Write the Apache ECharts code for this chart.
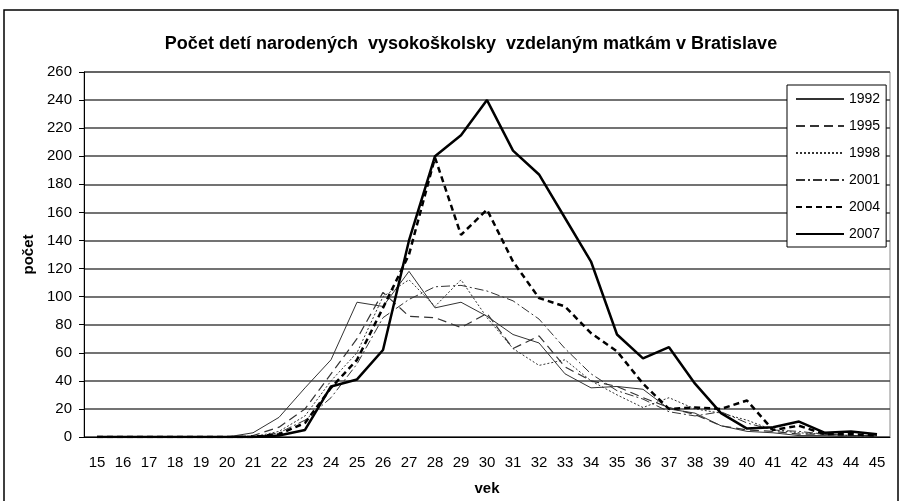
<!DOCTYPE html>
<html>
<head>
<meta charset="utf-8">
<script src="https://cdn.jsdelivr.net/npm/echarts@6/dist/echarts.min.js"></script>
<style>
  html, body { margin: 0; padding: 0; background: #fff; }
  #chart { width: 904px; height: 501px; }
</style>
</head>
<body>
<div id="chart"></div>
<script>
// vek matky 15..45
const ages = ['15','16','17','18','19','20','21','22','23','24','25','26','27','28','29','30',
  '31','32','33','34','35','36','37','38','39','40','41','42','43','44','45'];
const yTicks = [0, 20, 40, 60, 80, 100, 120, 140, 160, 180, 200, 220, 240, 260];

const y1992 = [0,0,0,0,0,0,3,14,35,55,96,93,118,92,96,86,73,67,45,35,36,34,20,17,8,4,3,1,1,0,0];
const y1995 = [0,0,0,0,0,0,1,7,20,45,70,103,86,85,78,88,63,72,50,40,36,28,21,16,8,5,4,2,2,1,1];
const y1998 = [0,0,0,0,0,0,0,4,15,40,60,100,112,93,112,85,63,51,55,40,30,21,28,20,17,12,5,3,2,1,0];
const y2001 = [0,0,0,0,0,0,0,3,12,28,52,85,98,107,108,104,97,84,63,45,33,27,18,15,18,10,5,4,2,1,1];
const y2004 = [0,0,0,0,0,0,0,2,10,35,55,92,130,199,144,162,125,99,93,74,61,38,20,21,20,26,5,8,2,2,1];
const y2007 = [0,0,0,0,0,0,0,1,5,36,41,62,140,200,215,240,204,187,156,125,73,56,64,38,17,6,7,11,3,4,2];

const font = '"Liberation Sans", Arial, sans-serif';

function lineSeries(name, data, width, type, color) {
  return {
    name: name,
    type: 'line',
    data: data,
    symbol: 'none',
    silent: true,
    lineStyle: { color: color, width: width, type: type },
    itemStyle: { color: color }
  };
}

const chart = echarts.init(document.getElementById('chart'));
chart.setOption({
  animation: false,
  backgroundColor: '#fff',
  textStyle: { fontFamily: font, color: '#000' },
  title: {
    text: 'Počet detí narodených  vysokoškolsky  vzdelaným matkám v Bratislave',
    left: 466,
    textAlign: 'center',
    top: 30,
    textStyle: { fontFamily: font, fontSize: 18, fontWeight: 'bold', color: '#000' }
  },
  legend: {
    orient: 'vertical',
    left: 787,
    top: 85,
    padding: [7, 6, 6, 8],
    itemWidth: 48,
    itemHeight: 14,
    itemGap: 13,
    backgroundColor: '#fff',
    borderColor: '#000',
    borderWidth: 1,
    itemStyle: { opacity: 0 },
    textStyle: { fontFamily: font, fontSize: 14, color: '#000' },
    data: ['1992', '1995', '1998', '2001', '2004', '2007']
  },
  grid: {
    left: 84,
    right: 14,
    top: 72,
    bottom: 61,
    show: true,
    borderColor: '#888',
    borderWidth: 1
  },
  xAxis: {
    type: 'category',
    data: ages,
    boundaryGap: true,
    name: 'vek',
    nameLocation: 'middle',
    nameGap: 44,
    nameTextStyle: { fontFamily: font, fontSize: 15, fontWeight: 'bold', color: '#000' },
    axisLine: { lineStyle: { color: '#000', width: 1 } },
    axisTick: { alignWithLabel: false, length: 5, lineStyle: { color: '#000' } },
    axisLabel: { interval: 0, margin: 18, fontSize: 15, color: '#000', fontFamily: font },
    splitLine: { show: false }
  },
  yAxis: {
    type: 'value',
    min: yTicks[0],
    max: yTicks[yTicks.length - 1],
    interval: 20,
    name: 'počet',
    nameLocation: 'middle',
    nameGap: 45,
    nameRotate: 90,
    nameTextStyle: { fontFamily: font, fontSize: 15, fontWeight: 'bold', color: '#000' },
    axisLine: { show: true, lineStyle: { color: '#000', width: 1 } },
    axisTick: { show: true, inside: false, length: 5, lineStyle: { color: '#000' } },
    axisLabel: { margin: 12, fontSize: 15, color: '#000', fontFamily: font },
    splitLine: { show: true, lineStyle: { color: '#444', width: 1.5 } }
  },
  series: [
    lineSeries('1992', y1992, 1, 'solid', '#333'),
    lineSeries('1995', y1995, 1.2, [9, 5], '#333'),
    lineSeries('1998', y1998, 1, [2, 2], '#333'),
    lineSeries('2001', y2001, 1, [9, 3, 2, 3], '#333'),
    lineSeries('2004', y2004, 2.5, [6, 4], '#000'),
    lineSeries('2007', y2007, 2.5, 'solid', '#000')
  ],
  graphic: [{
    type: 'rect',
    shape: { x: 4, y: 10, width: 894, height: 500 },
    style: { fill: 'none', stroke: '#000', lineWidth: 1.5 },
    silent: true,
    z: -1
  }]
});
</script>
</body>
</html>
